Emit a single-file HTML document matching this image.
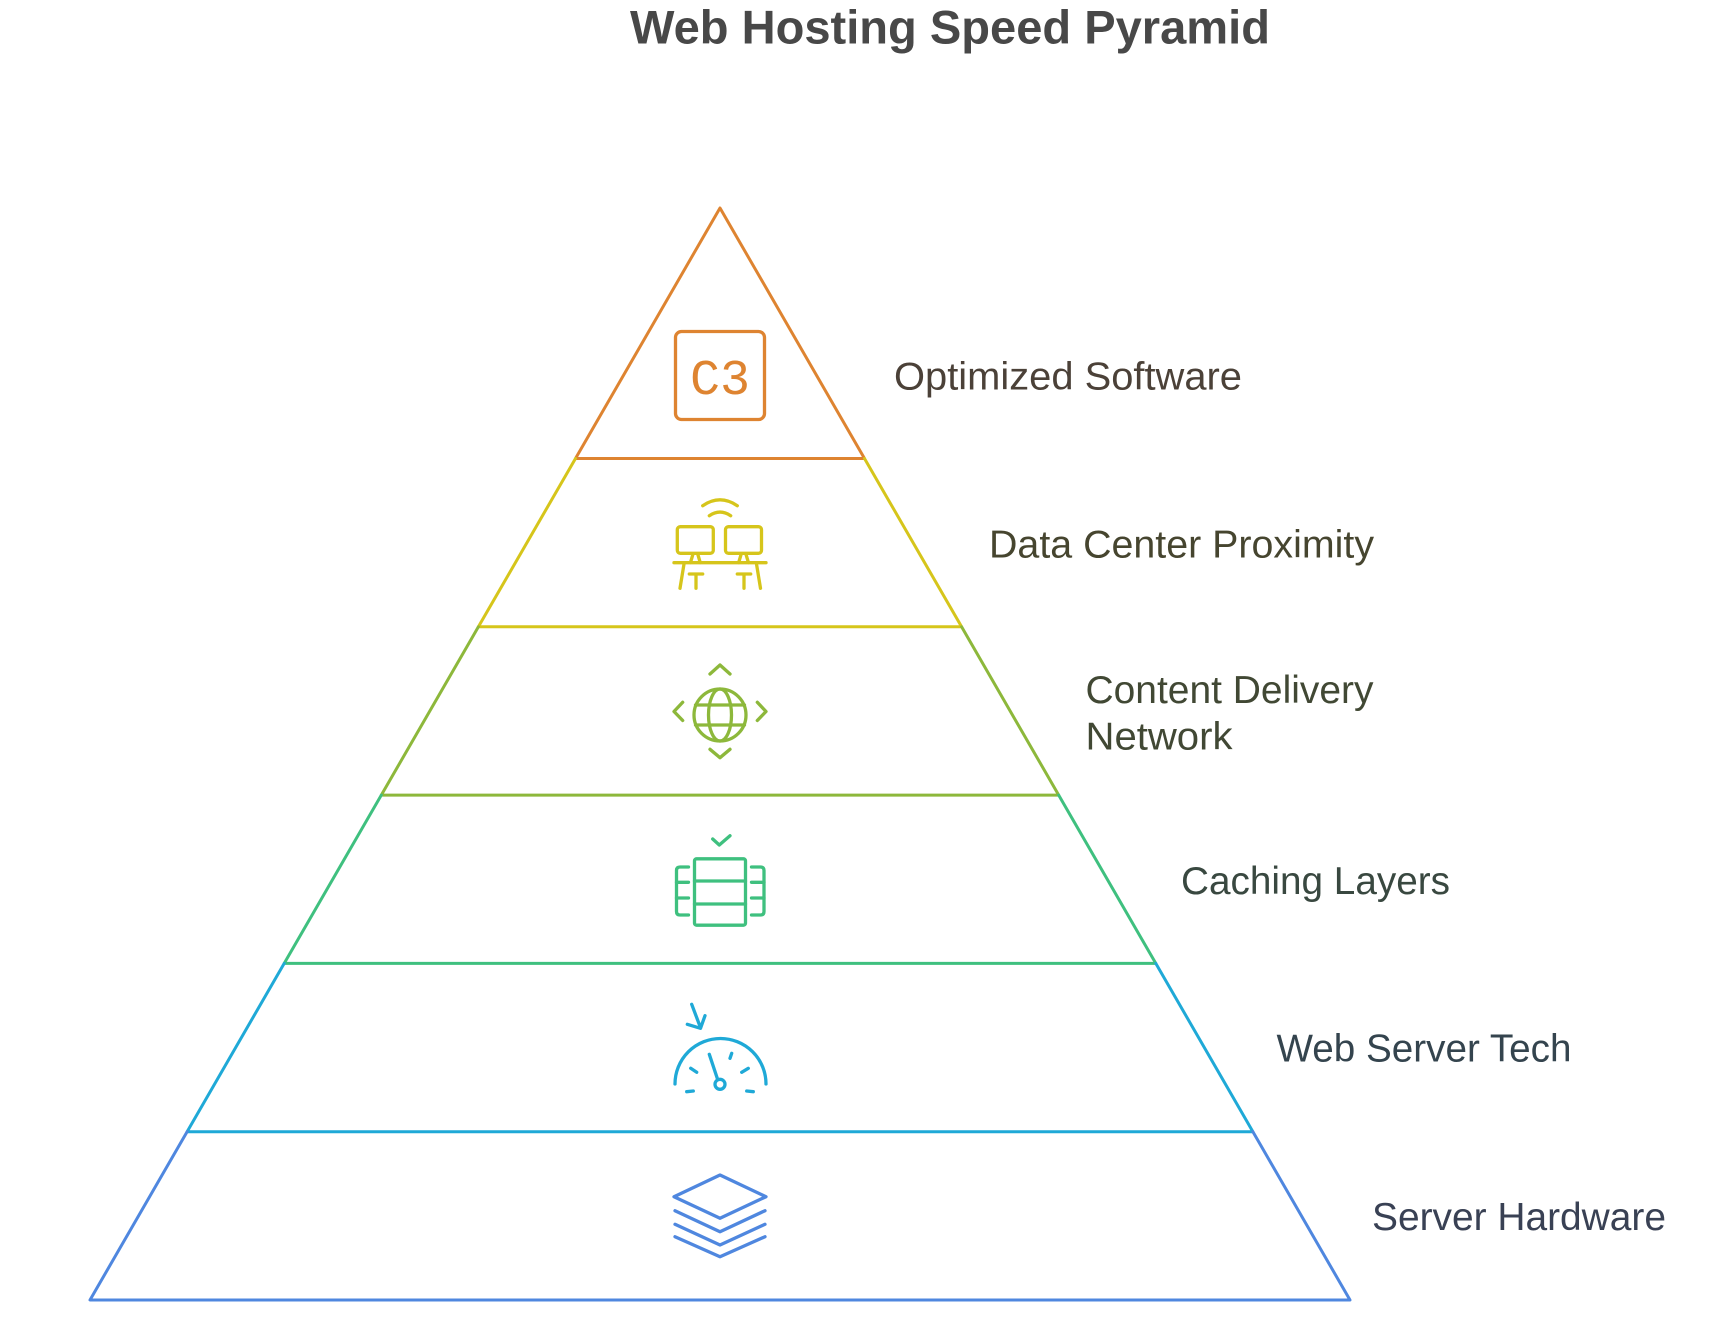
<!DOCTYPE html>
<html>
<head>
<meta charset="utf-8">
<style>
  html, body { margin: 0; padding: 0; background: #ffffff; }
  body { width: 1728px; height: 1330px; overflow: hidden; }
  svg { display: block; }
  .lbl { font-family: "Liberation Sans", Arial, sans-serif; font-size: 39px; }
</style>
</head>
<body>
<svg width="1728" height="1330" viewBox="0 0 1728 1330" xmlns="http://www.w3.org/2000/svg">
  <rect width="1728" height="1330" fill="#ffffff"/>

  <!-- Title -->
  <text x="630" y="43.5" font-family="Liberation Sans, Arial, sans-serif" font-weight="bold" font-size="47" fill="#484848" textLength="640" lengthAdjust="spacingAndGlyphs">Web Hosting Speed Pyramid</text>

  <!-- Pyramid tiers -->
  <g fill="none" stroke-width="3" stroke-linecap="round" stroke-linejoin="round">
    <path d="M575.5,458.5 L720,208 L864.5,458.5 Z" stroke="#DE8431"/>
    <path d="M575.5,458.5 L478.4,626.8 L961.6,626.8 L864.5,458.5" stroke="#D6C51B"/>
    <path d="M478.4,626.8 L381.3,795.1 L1058.7,795.1 L961.6,626.8" stroke="#8DB83B"/>
    <path d="M381.3,795.1 L284.2,963.4 L1155.8,963.4 L1058.7,795.1" stroke="#3FC07F"/>
    <path d="M284.2,963.4 L187.1,1131.7 L1252.9,1131.7 L1155.8,963.4" stroke="#1FA9D7"/>
    <path d="M187.1,1131.7 L90,1300 L1350,1300 L1252.9,1131.7" stroke="#4F87DF"/>
  </g>

  <!-- Icon 1: C3 box -->
  <g fill="none" stroke="#DE8431" stroke-width="3.3">
    <rect x="675.5" y="331.5" width="89" height="88" rx="6" ry="6"/>
  </g>
  <text x="720" y="394" text-anchor="middle" font-family="Liberation Mono, monospace" font-size="50" fill="#DE8431">C3</text>

  <!-- Icon 2: data center -->
  <g fill="none" stroke="#D6C51B" stroke-width="3.3" stroke-linecap="round" stroke-linejoin="round">
    <path d="M702.7,505.7 Q720,494 737.3,505.7"/>
    <path d="M709.3,515.7 Q720,508.5 730.7,515.7"/>
    <rect x="677.3" y="526.7" width="36" height="26.6" rx="3"/>
    <rect x="725.5" y="526.7" width="36" height="26.6" rx="3"/>
    <path d="M693,554 L690.5,562.5 M697.7,554 L700.2,562.5"/>
    <path d="M741.2,554 L738.7,562.5 M745.9,554 L748.4,562.5"/>
    <path d="M674,562.7 L766,562.7"/>
    <path d="M684,564 L680,588.3"/>
    <path d="M756.5,564 L760.5,588.3"/>
    <path d="M689.3,574 L702.7,574 M696,574 L696,588.3"/>
    <path d="M737.3,574 L750.7,574 M744,574 L744,588.3"/>
  </g>

  <!-- Icon 3: globe with arrows -->
  <g fill="none" stroke="#8DB83B" stroke-width="3.3" stroke-linecap="round" stroke-linejoin="round">
    <circle cx="720" cy="715" r="26"/>
    <ellipse cx="720" cy="715" rx="11.5" ry="26"/>
    <path d="M695.5,705 L744.5,705 M695.5,725 L744.5,725"/>
    <path d="M710,674 L720,665 L730,674"/>
    <path d="M710,749.3 L720,757.7 L730,749.3"/>
    <path d="M682.7,702.3 L674,711.5 L682.7,720.5"/>
    <path d="M757.3,702.3 L766,711.5 L757.3,720.5"/>
  </g>

  <!-- Icon 4: caching -->
  <g fill="none" stroke="#3FC07F" stroke-width="3.3" stroke-linecap="round" stroke-linejoin="round">
    <path d="M712.7,839 L719.3,845 L730,835.7"/>
    <rect x="694.5" y="858.8" width="51" height="66.4" rx="2"/>
    <path d="M694.5,881 L745.5,881 M694.5,904 L745.5,904"/>
    <path d="M688.5,867 L680,867 Q676.5,867 676.5,870.5 L676.5,911.5 Q676.5,915 680,915 L688.5,915"/>
    <path d="M676.5,882.3 L688.5,882.3 M676.5,898 L688.5,898"/>
    <path d="M751.5,867 L760.5,867 Q764,867 764,870.5 L764,911.5 Q764,915 760.5,915 L751.5,915"/>
    <path d="M751.5,882.3 L764,882.3 M751.5,898 L764,898"/>
  </g>

  <!-- Icon 5: speedometer -->
  <g fill="none" stroke="#1FA9D7" stroke-width="3.3" stroke-linecap="round" stroke-linejoin="round">
    <path d="M691.7,1004.3 L700.5,1027.7"/>
    <path d="M687.3,1024.3 L700.5,1028.3 L705,1015.7"/>
    <path d="M675,1084 A45.5,45.5 0 0 1 766,1084"/>
    <circle cx="720" cy="1084.3" r="5"/>
    <path d="M709.3,1054.3 L717.5,1079"/>
    <path d="M690.7,1068.3 L696.7,1072.3"/>
    <path d="M741.7,1072.3 L748.3,1068.3"/>
    <path d="M731.7,1053.3 L730,1058.3"/>
    <path d="M686.7,1091.7 L693.3,1091"/>
    <path d="M746.7,1091 L753.3,1091.7"/>
  </g>

  <!-- Icon 6: layers -->
  <g fill="none" stroke="#4F87DF" stroke-width="3.3" stroke-linecap="round" stroke-linejoin="round">
    <path d="M674,1196.7 L720,1175 L766,1196.7 L720,1218.3 Z"/>
    <path d="M675,1210.7 L720,1231.7 L765,1210.7"/>
    <path d="M675,1224.3 L720,1245 L765,1224.3"/>
    <path d="M675,1236.7 L720,1256.7 L765,1236.7"/>
  </g>

  <!-- Labels -->
  <text class="lbl" x="894" y="389.5" fill="#4B4138" textLength="348" lengthAdjust="spacingAndGlyphs">Optimized Software</text>
  <text class="lbl" x="989" y="557.3" fill="#46452F" textLength="385" lengthAdjust="spacingAndGlyphs">Data Center Proximity</text>
  <text class="lbl" x="1085.5" y="703" fill="#414834" textLength="288" lengthAdjust="spacingAndGlyphs">Content Delivery</text>
  <text class="lbl" x="1085.5" y="749.4" fill="#414834" textLength="147" lengthAdjust="spacingAndGlyphs">Network</text>
  <text class="lbl" x="1181" y="893.8" fill="#394840" textLength="269" lengthAdjust="spacingAndGlyphs">Caching Layers</text>
  <text class="lbl" x="1276.5" y="1061.5" fill="#34444E" textLength="295" lengthAdjust="spacingAndGlyphs">Web Server Tech</text>
  <text class="lbl" x="1372" y="1230" fill="#394154" textLength="294" lengthAdjust="spacingAndGlyphs">Server Hardware</text>
</svg>
</body>
</html>
